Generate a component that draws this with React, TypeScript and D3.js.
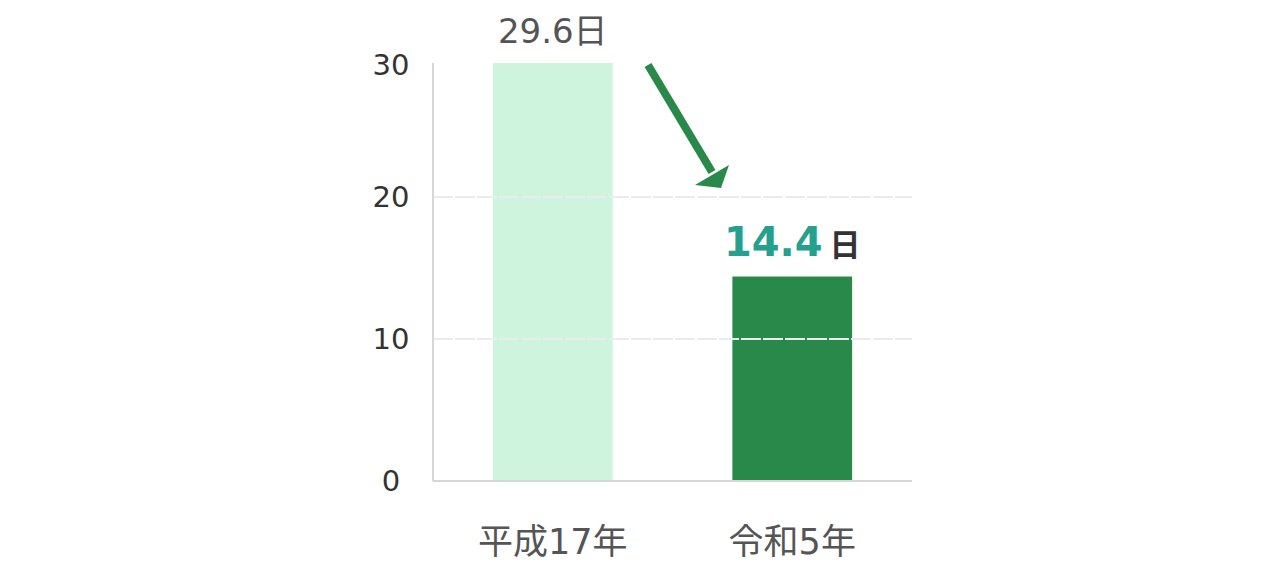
import { useEffect, useRef } from "react";
import * as d3 from "d3";

const categories = ["平成17年", "令和5年"];
const values = [29.6, 14.4];
const yTicks = [0, 10, 20, 30];
const gridTicks = [10, 20];

const FONT = "'DejaVu Sans', 'Noto Sans CJK JP', sans-serif";

export default function App() {
    const ref = useRef<SVGSVGElement | null>(null);
    const width = 1284;
    const height = 566;

    useEffect(() => {
        const margin = { top: 55, left: 433, right: 372, bottom: 85 };
        const svg = d3.select(ref.current);
        svg.selectAll("*").remove();

        const x = d3
            .scaleBand()
            .domain(categories)
            .range([margin.left, width - margin.right])
            .paddingInner(0.5)
            .paddingOuter(0.25);

        const y = d3
            .scaleLinear()
            .domain([0, 30])
            .range([height - margin.bottom, margin.top]);

        const plotTop = 63;

        // clip for plot area
        svg.append("defs")
            .append("clipPath")
            .attr("id", "plot")
            .append("rect")
            .attr("x", margin.left)
            .attr("y", plotTop)
            .attr("width", width - margin.right - margin.left)
            .attr("height", y(0) - plotTop);

        const colors = ["#cff4dd", "#29894a"];

        svg.append("g")
            .attr("clip-path", "url(#plot)")
            .selectAll("rect")
            .data(values)
            .join("rect")
            .attr("x", (d, i) => x(categories[i]) ?? 0)
            .attr("width", x.bandwidth())
            .attr("y", (d) => y(d))
            .attr("height", (d) => y(0) - y(d))
            .attr("fill", (d, i) => colors[i]);

        // dashed gridlines on top of bars
        svg.append("g")
            .selectAll("line")
            .data(gridTicks)
            .join("line")
            .attr("x1", margin.left)
            .attr("x2", width - margin.right)
            .attr("y1", (d) => y(d))
            .attr("y2", (d) => y(d))
            .attr("stroke", "#ececf0")
            .attr("stroke-width", 2)
            .attr("stroke-dasharray", "20 2");

        // axes
        svg.append("line")
            .attr("x1", margin.left)
            .attr("x2", margin.left)
            .attr("y1", plotTop)
            .attr("y2", y(0))
            .attr("stroke", "#d6d6d6")
            .attr("stroke-width", 2);
        svg.append("line")
            .attr("x1", margin.left)
            .attr("x2", width - margin.right)
            .attr("y1", y(0))
            .attr("y2", y(0))
            .attr("stroke", "#d6d6d6")
            .attr("stroke-width", 2);

        svg.append("g")
            .selectAll("text")
            .data(yTicks)
            .join("text")
            .attr("x", 391)
            .attr("y", (d) => Math.max(y(d), 65))
            .attr("text-anchor", "middle")
            .attr("dominant-baseline", "central")
            .attr("font-family", FONT)
            .attr("font-size", 29)
            .attr("fill", "#333")
            .text((d) => d);

        // category labels
        svg.append("g")
            .selectAll("text")
            .data(categories)
            .join("text")
            .attr("x", (d) => (x(d) ?? 0) + x.bandwidth() / 2)
            .attr("y", 554)
            .attr("text-anchor", "middle")
            .attr("font-family", FONT)
            .attr("font-size", 35)
            .attr("fill", "#555")
            .text((d) => d);

        // value labels
        const cx0 = (x(categories[0]) ?? 0) + x.bandwidth() / 2;
        const cx1 = (x(categories[1]) ?? 0) + x.bandwidth() / 2;

        svg.append("text")
            .attr("x", cx0)
            .attr("y", 43)
            .attr("text-anchor", "middle")
            .attr("font-family", FONT)
            .attr("font-size", 34)
            .attr("fill", "#555")
            .text(`${values[0]}日`);

        const t = svg.append("text")
            .attr("x", cx1)
            .attr("y", y(values[1]) - 21)
            .attr("text-anchor", "middle")
            .attr("font-family", FONT)
            .attr("font-weight", "bold");
        t.append("tspan")
            .attr("font-size", 40)
            .attr("fill", "#26a08e")
            .text(values[1]);
        t.append("tspan")
            .attr("font-size", 31)
            .attr("fill", "#333")
            .attr("dx", 7)
            .text("日");

        // arrow
        const arrowColor = "#29894a";
        svg.append("line")
            .attr("x1", 648)
            .attr("y1", 65)
            .attr("x2", 712)
            .attr("y2", 172)
            .attr("stroke", arrowColor)
            .attr("stroke-width", 8);
        svg.append("path")
            .attr("d", "M695,185 L729,165 L721,188 Z")
            .attr("fill", arrowColor);
    }, []);

    return (
        <svg
            ref={ref}
            width={width}
            height={height}
            style={{ display: "block", margin: -8 }}
        />
    );
}
